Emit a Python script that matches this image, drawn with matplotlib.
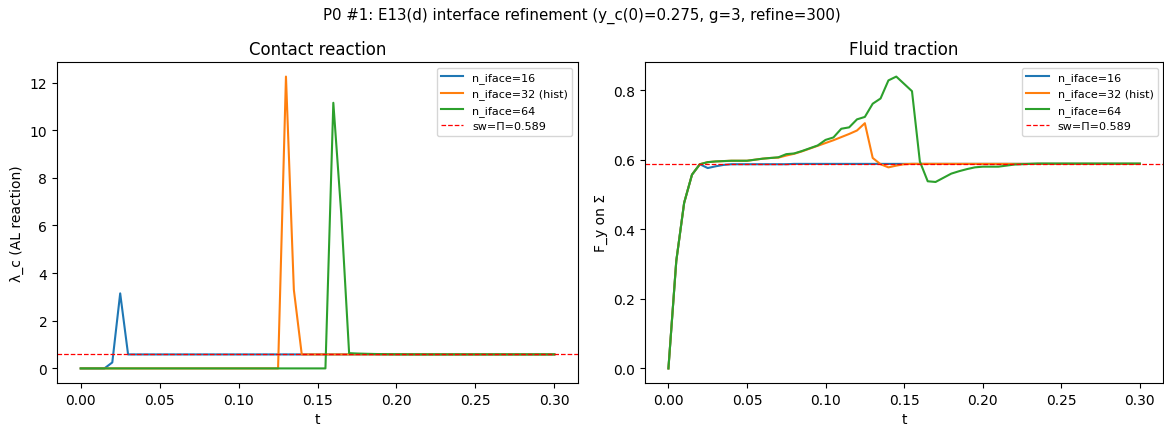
import numpy as np
import matplotlib.pyplot as plt

# time grid of the saved steps
t = np.linspace(0.0, 0.30, 61)

labels = ["n_iface=16", "n_iface=32 (hist)", "n_iface=64"]
sw_pi = 0.589

# contact reaction lambda_c per interface resolution
lam_16 = [0.0, 0.0, 0.0, 0.0, 0.25, 3.15, 0.587, 0.587, 0.587, 0.587,
          0.587, 0.587, 0.587, 0.587, 0.587, 0.587, 0.587, 0.587, 0.587, 0.587,
          0.587, 0.587, 0.587, 0.587, 0.587, 0.587, 0.587, 0.587, 0.587, 0.587,
          0.587, 0.587, 0.587, 0.587, 0.587, 0.587, 0.587, 0.587, 0.587, 0.587,
          0.587, 0.587, 0.587, 0.587, 0.587, 0.587, 0.587, 0.587, 0.587, 0.587,
          0.587, 0.587, 0.587, 0.587, 0.587, 0.587, 0.587, 0.587, 0.587, 0.587,
          0.587]
lam_32 = [0.0, 0.0, 0.0, 0.0, 0.0, 0.0, 0.0, 0.0, 0.0, 0.0,
          0.0, 0.0, 0.0, 0.0, 0.0, 0.0, 0.0, 0.0, 0.0, 0.0,
          0.0, 0.0, 0.0, 0.0, 0.0, 0.0, 12.25, 3.3, 0.587, 0.587,
          0.587, 0.587, 0.587, 0.587, 0.587, 0.587, 0.587, 0.587, 0.587, 0.587,
          0.587, 0.587, 0.587, 0.587, 0.587, 0.587, 0.587, 0.587, 0.587, 0.587,
          0.587, 0.587, 0.587, 0.587, 0.587, 0.587, 0.587, 0.587, 0.587, 0.587,
          0.587]
lam_64 = [0.0, 0.0, 0.0, 0.0, 0.0, 0.0, 0.0, 0.0, 0.0, 0.0,
          0.0, 0.0, 0.0, 0.0, 0.0, 0.0, 0.0, 0.0, 0.0, 0.0,
          0.0, 0.0, 0.0, 0.0, 0.0, 0.0, 0.0, 0.0, 0.0, 0.0,
          0.0, 0.0, 11.15, 6.5, 0.64, 0.625, 0.615, 0.607, 0.600, 0.596,
          0.593, 0.591, 0.590, 0.589, 0.589, 0.589, 0.589, 0.589, 0.589, 0.589,
          0.589, 0.589, 0.589, 0.589, 0.589, 0.589, 0.589, 0.589, 0.589, 0.589,
          0.589]

# fluid traction F_y on Sigma
fy_16 = [0.0, 0.309, 0.476, 0.557, 0.587, 0.576, 0.581, 0.585, 0.587, 0.587,
         0.587, 0.587, 0.587, 0.587, 0.587, 0.587, 0.588, 0.588, 0.588, 0.588,
         0.588, 0.588, 0.588, 0.588, 0.588, 0.588, 0.588, 0.588, 0.588, 0.588,
         0.588, 0.588, 0.588, 0.588, 0.588, 0.588, 0.588, 0.588, 0.588, 0.588,
         0.588, 0.588, 0.588, 0.588, 0.588, 0.588, 0.588, 0.588, 0.588, 0.588,
         0.588, 0.588, 0.588, 0.588, 0.588, 0.588, 0.588, 0.588, 0.588, 0.588,
         0.588]
fy_32 = [0.0, 0.309, 0.476, 0.557, 0.587, 0.593, 0.595, 0.596, 0.597, 0.597,
         0.597, 0.600, 0.603, 0.605, 0.606, 0.612, 0.617, 0.624, 0.632, 0.640,
         0.648, 0.656, 0.665, 0.674, 0.684, 0.705, 0.605, 0.587, 0.578, 0.583,
         0.587, 0.588, 0.588, 0.588, 0.588, 0.588, 0.588, 0.588, 0.588, 0.588,
         0.588, 0.588, 0.588, 0.588, 0.588, 0.588, 0.588, 0.588, 0.588, 0.588,
         0.588, 0.588, 0.588, 0.588, 0.588, 0.588, 0.588, 0.588, 0.588, 0.588,
         0.588]
fy_64 = [0.0, 0.309, 0.476, 0.557, 0.587, 0.593, 0.595, 0.596, 0.597, 0.597,
         0.597, 0.600, 0.603, 0.605, 0.607, 0.616, 0.618, 0.625, 0.633, 0.641,
         0.657, 0.664, 0.689, 0.693, 0.716, 0.723, 0.761, 0.776, 0.828, 0.839,
         0.818, 0.797, 0.595, 0.538, 0.536, 0.548, 0.560, 0.567, 0.573, 0.578,
         0.580, 0.580, 0.580, 0.583, 0.586, 0.587, 0.588, 0.589, 0.589, 0.589,
         0.589, 0.589, 0.589, 0.589, 0.589, 0.589, 0.589, 0.589, 0.589, 0.589,
         0.589]

fig = plt.figure(figsize=(11.64, 4.27), dpi=100)
ax1 = fig.add_axes([0.049, 0.1007, 0.4476, 0.7518])
ax2 = fig.add_axes([0.554, 0.1007, 0.4455, 0.7518])

for ax, series, title, ylab in [
        (ax1, [lam_16, lam_32, lam_64], "Contact reaction", "λ_c (AL reaction)"),
        (ax2, [fy_16, fy_32, fy_64], "Fluid traction", "F_y on Σ")]:
    for y, lab in zip(series, labels):
        ax.plot(t, y, label=lab)
    ax.axhline(sw_pi, color="red", ls="--", lw=0.9, label=f"sw=Π={sw_pi}")
    ax.set_title(title, fontsize=12)
    ax.set_xlabel("t")
    ax.set_ylabel(ylab)
    ax.legend(loc="upper right", fontsize=8)

fig.suptitle("P0 #1: E13(d) interface refinement (y_c(0)=0.275, g=3, refine=300)",
             fontsize=10.8, y=0.982)
fig.savefig("out.png", dpi=100)
